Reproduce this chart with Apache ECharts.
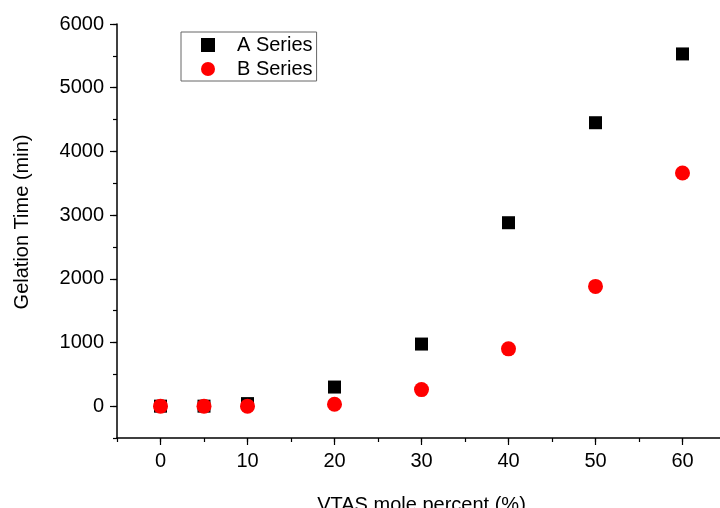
<!DOCTYPE html>
<html>
<head>
<meta charset="utf-8">
<script src="https://cdn.jsdelivr.net/npm/echarts@6/dist/echarts.min.js"></script>
<style>
  html, body { margin: 0; padding: 0; background: #fff; }
  #chart { width: 720px; height: 508px; }
</style>
</head>
<body>
<div id="chart"></div>
<script>
  // VTAS mole percent
  var xValues = [0, 5, 10, 20, 30, 40, 50, 60];
  // gelation time (min)
  var seriesA = [0, 0, 40, 300, 975, 2880, 4450, 5530];
  var seriesB = [0, 0, 0, 30, 260, 900, 1880, 3660];
  var xMajorTicks = [0, 10, 20, 30, 40, 50, 60];
  var yMajorTicks = [0, 1000, 2000, 3000, 4000, 5000, 6000];

  function pairs(ys) {
    return xValues.map(function (x, i) { return [x, ys[i]]; });
  }

  var font = 'Liberation Sans, Arial, sans-serif';
  var black = '#000';

  var chart = echarts.init(document.getElementById('chart'));

  var option = {
    backgroundColor: '#fff',
    animation: false,
    textStyle: { fontFamily: font },
    grid: { left: 117, top: 24, width: 609, bottom: 70, outerBoundsMode: 'none', containLabel: false },
    legend: {
      orient: 'vertical',
      left: 181,
      top: 32,
      padding: [3, 4, 2, 20],
      itemGap: 4,
      itemWidth: 14,
      itemHeight: 14,
      borderColor: '#666',
      borderWidth: 1,
      textStyle: { fontSize: 20, color: black, fontFamily: font, padding: [0, 0, 0, 17] },
      data: [
        { name: 'A Series', icon: 'rect' },
        { name: 'B Series', icon: 'circle' }
      ]
    },
    xAxis: [
      {
        type: 'value',
        min: -5,
        max: 65,
        interval: 5,
        position: 'bottom',
        name: 'VTAS mole percent (%)',
        nameLocation: 'middle',
        nameGap: 57,
        nameTextStyle: { fontSize: 20, color: black, fontFamily: font },
        axisLine: { onZero: false, lineStyle: { color: black, width: 1.5 } },
        axisTick: { length: 4, lineStyle: { color: black, width: 1.2 } },
        axisLabel: {
          margin: 13,
          fontSize: 20,
          color: black,
          fontFamily: font,
          formatter: function (v) { return v % 10 === 0 ? String(v) : ''; }
        },
        splitLine: { show: false }
      },
      {
        type: 'value',
        min: -5,
        max: 65,
        position: 'bottom',
        offset: 0,
        axisLine: { show: false, onZero: false },
        axisTick: { length: 7, customValues: xMajorTicks, lineStyle: { color: black, width: 1.2 } },
        axisLabel: { show: false },
        splitLine: { show: false }
      }
    ],
    yAxis: [
      {
        type: 'value',
        min: -500,
        max: 6000,
        interval: 500,
        position: 'left',
        name: 'Gelation Time (min)',
        nameLocation: 'middle',
        nameGap: 85,
        nameTextStyle: { fontSize: 20, color: black, fontFamily: font, padding: [0, 0, 0, 18] },
        axisLine: { show: true, onZero: false, lineStyle: { color: black, width: 1.5 } },
        axisTick: { show: true, length: 4, lineStyle: { color: black, width: 1.2 } },
        axisLabel: {
          margin: 13,
          fontSize: 20,
          color: black,
          fontFamily: font,
          formatter: function (v) { return v % 1000 === 0 ? String(v) : ''; }
        },
        splitLine: { show: false }
      },
      {
        type: 'value',
        min: -500,
        max: 6000,
        position: 'left',
        offset: 0,
        axisLine: { show: false, onZero: false },
        axisTick: { show: true, length: 7, customValues: yMajorTicks, lineStyle: { color: black, width: 1.2 } },
        axisLabel: { show: false },
        splitLine: { show: false }
      }
    ],
    series: [
      {
        name: 'A Series',
        type: 'scatter',
        symbol: 'rect',
        symbolSize: 13,
        itemStyle: { color: '#000', opacity: 1 },
        data: pairs(seriesA)
      },
      {
        name: 'B Series',
        type: 'scatter',
        symbol: 'circle',
        symbolSize: 15,
        itemStyle: { color: '#ff0000', opacity: 1 },
        data: pairs(seriesB)
      }
    ]
  };

  chart.setOption(option);
</script>
</body>
</html>
